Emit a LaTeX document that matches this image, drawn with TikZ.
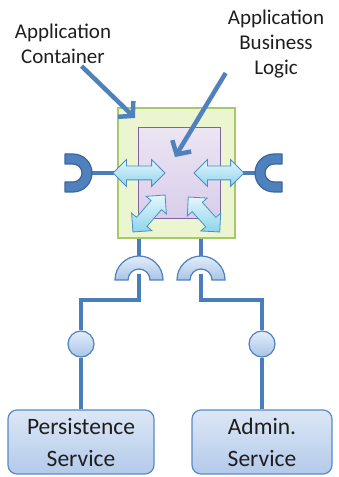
\documentclass[tikz,border=0pt]{standalone}
\usepackage{fontspec}
\setmainfont{Carlito}
\usetikzlibrary{shapes,arrows.meta}
\definecolor{accblue}{HTML}{4F81BD}
\definecolor{wireblue}{HTML}{4A7EBB}
\definecolor{sockedge}{HTML}{3A669C}
\definecolor{plugtop}{HTML}{E3EDF9}
\definecolor{plugbot}{HTML}{A8C4E8}
\definecolor{boxtop}{HTML}{DCE7F5}
\definecolor{boxbot}{HTML}{B3CAEA}
\definecolor{boxedge}{HTML}{5A8AC6}
\definecolor{contfill}{HTML}{EBF6D0}
\definecolor{contedge}{HTML}{A6C96A}
\definecolor{logictop}{HTML}{ECE5F3}
\definecolor{logicbot}{HTML}{D9CDEA}
\definecolor{logicedge}{HTML}{8064A2}
\definecolor{arrtop}{HTML}{E4F6FC}
\definecolor{arrbot}{HTML}{8ED4EC}
\definecolor{arredge}{HTML}{4C8FC0}
\definecolor{textgray}{HTML}{1E1E1E}
\tikzset{
  wire/.style={draw=wireblue, line width=3.5pt},
  sockshape/.style={fill=accblue, draw=sockedge, line width=1.2pt, line join=round},
  plugshape/.style={top color=plugtop, bottom color=plugbot, draw=accblue, line width=1.2pt},
  ballnode/.style={circle, minimum size=26pt, inner sep=0pt, top color=plugtop, bottom color=plugbot, draw=accblue, line width=1.2pt},
  servicebox/.style={rectangle, rounded corners=9pt, minimum height=64pt, top color=boxtop, bottom color=boxbot, draw=boxedge, line width=1.2pt, align=center, font=\fontsize{23.5}{32}\selectfont, text=textgray},
  containerbox/.style={rectangle, minimum width=117pt, minimum height=130pt, fill=contfill, draw=contedge, line width=1.2pt},
  logicbox/.style={rectangle, minimum width=82pt, minimum height=91pt, top color=logictop, bottom color=logicbot, draw=logicedge, line width=1pt},
  fatarrow/.style={double arrow, minimum width=26pt, double arrow head extend=6.5pt, inner xsep=0pt, inner ysep=6.5pt, top color=arrtop, bottom color=arrbot, draw=arredge, line width=0.8pt},
  labeltext/.style={align=center, font=\fontsize{21}{25}\selectfont, text=textgray, inner sep=2pt},
  pointer/.style={draw=accblue, line width=4.5pt, -{Straight Barb[length=10pt,width=22pt]}},
}
\begin{document}
\begin{tikzpicture}[x=1pt,y=1pt]
        \useasboundingbox (0,0) rectangle (338,477);
        % Container and business logic
        \node[containerbox] (container) at (176.5,304) {};
        \node[logicbox] (logic) at (179,303.5) {};
        % Define points
        \coordinate (sockW) at (73,304);
        \coordinate (sockE) at (274,304);
        \coordinate (sockWtip) at (92,304);
        \coordinate (sockEtip) at (255,304);
        \coordinate (plugP) at (139,197);
        \coordinate (plugA) at (201,197);
        \coordinate (contTip) at (135,359);
        \coordinate (logicTip) at (175,320);
        % Services and balls
        \node[ballnode] (ballP) at (81,133) {};
        \node[ballnode] (ballA) at (262,133) {};
        \node[servicebox, minimum width=146pt] (persist) at (81,35) {Persistence\\Service};
        \node[servicebox, minimum width=140pt] (admin) at (262,35) {Admin.\\Service};
        % Wires
        \draw[wire] (sockWtip) -- (container.west);
        \draw[wire] (sockEtip) -- (container.east);
        \draw[wire] (container.south -| plugP) -- ++(0,-18);
        \draw[wire] (container.south -| plugA) -- ++(0,-18);
        \draw[wire] (plugP) ++(0,6) -- ++(0,-26) -| (ballP);
        \draw[wire] (plugA) ++(0,6) -- ++(0,-26) -| (ballA);
        \draw[wire] (ballP) -- (persist);
        \draw[wire] (ballA) -- (admin);
        % Sockets
        \filldraw[sockshape] (sockW) ++(-8,19) -- ++(8,0) arc[start angle=90,end angle=-90,radius=19pt]
        -- ++(-8,0) -- ++(0,10) -- ++(8,0) arc[start angle=-90,end angle=90,radius=9pt] -- ++(-8,0) -- cycle;
        \filldraw[sockshape] (sockE) ++(8,19) -- ++(-8,0) arc[start angle=90,end angle=270,radius=19pt]
        -- ++(8,0) -- ++(0,10) -- ++(-8,0) arc[start angle=270,end angle=90,radius=9pt] -- ++(8,0) -- cycle;
        \filldraw[plugshape] (plugP) ++(-24,0) arc[start angle=180,end angle=0,radius=24pt]
        -- ++(-13,0) arc[start angle=0,end angle=180,radius=11pt] -- cycle;
        \filldraw[plugshape] (plugA) ++(-24,0) arc[start angle=180,end angle=0,radius=24pt]
        -- ++(-13,0) arc[start angle=0,end angle=180,radius=11pt] -- cycle;
        % Fat double arrows
        \node[fatarrow, minimum height=52pt] (arrW) at (139,304) {};
        \node[fatarrow, minimum height=50pt] (arrE) at (219,304) {};
        \node[fatarrow, minimum height=49pt, rotate=49] (arrSW) at (149,263.5) {};
        \node[fatarrow, minimum height=47pt, rotate=-48] (arrSE) at (204,262.5) {};
        % Labels
        \node[labeltext] (contlabel) at (63,433) {Application\\Container};
        \node[labeltext] (logiclabel) at (276,433) {Application\\Business\\Logic};
        \draw[pointer] (contlabel.310) -- (contTip);
        \draw[pointer] (logiclabel.210) -- (logicTip);
    \end{tikzpicture}
\end{document}
